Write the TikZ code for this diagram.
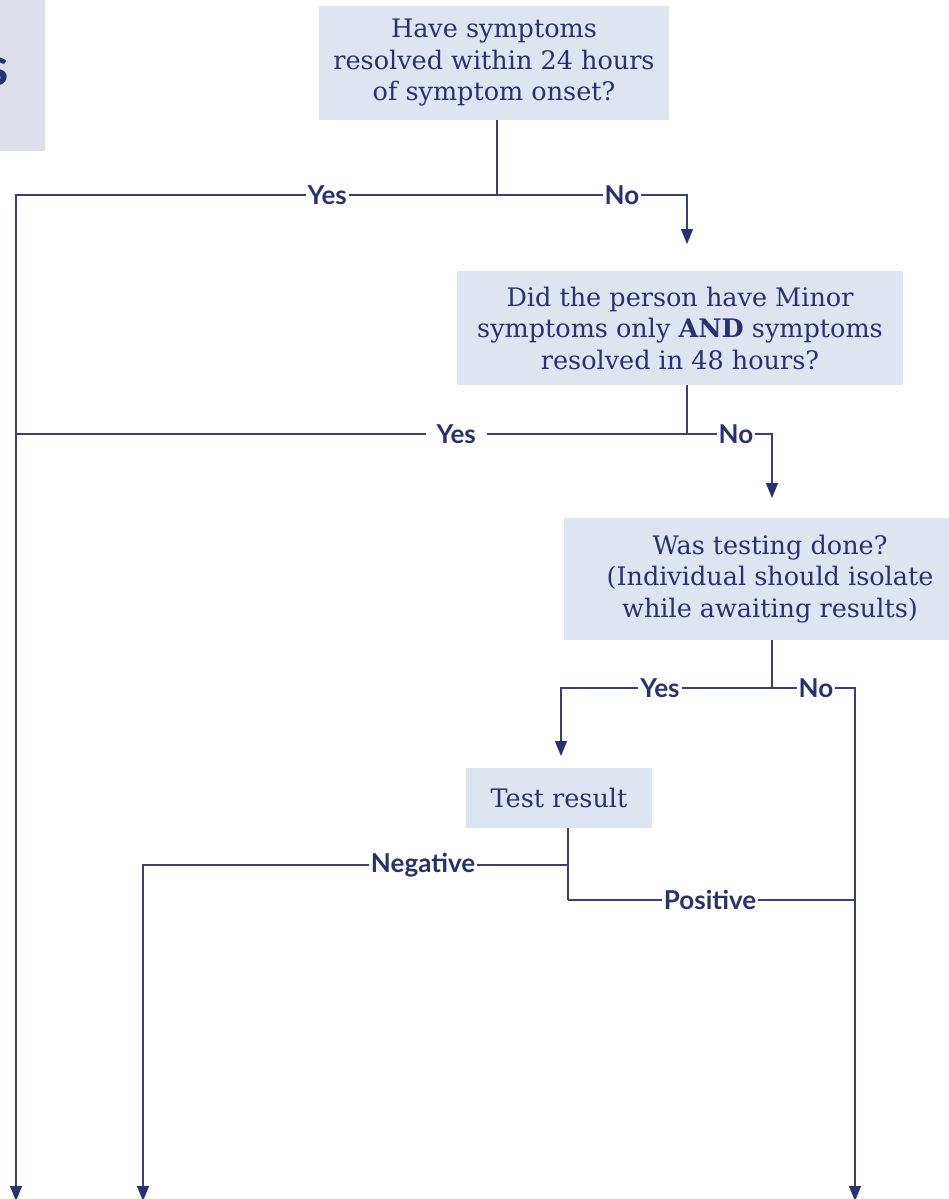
\documentclass[tikz,border=0pt]{standalone}
\usepackage{fontspec}
\setmainfont{DejaVu Serif}
\newfontfamily\lab{Lato}
\usetikzlibrary{arrows.meta}
\definecolor{navy}{HTML}{2B3070}
\definecolor{boxfill}{HTML}{DFE5F0}
\definecolor{tlfill}{HTML}{DEDEEA}
\definecolor{linec}{HTML}{3A3F75}
\begin{document}
\begin{tikzpicture}[x=1pt,y=-1pt,
  qbox/.style={fill=boxfill, text=navy, align=center, inner sep=0pt,
    font=\fontsize{25.5}{31.5}\selectfont},
  lbl/.style={fill=white, text=navy, inner xsep=2pt, inner ysep=0pt,
    font=\lab\bfseries\fontsize{26}{30}\selectfont},
  lblwide/.style={lbl, inner xsep=11pt},
  conn/.style={draw=linec, line width=1.3pt},
  arr/.style={conn, -{Triangle[width=12pt,length=15pt,color=navy]}}]
\useasboundingbox (0,0) rectangle (948,1199);

% partial box at top left
\node[fill=tlfill, minimum width=45pt, minimum height=151pt, anchor=north west, inner sep=0pt] (tl) at (0,0) {};
\node[text=navy, font=\lab\bfseries\fontsize{53}{53}\selectfont, anchor=east, inner sep=0pt] (tls) at (9,72) {s};

% question boxes
\node[qbox, minimum width=350pt, minimum height=114pt] (q1) at (494,63)
  {Have symptoms\\resolved within 24 hours\\of symptom onset?};
\node[qbox, minimum width=446pt, minimum height=114pt] (q2) at (680,328)
  {Did the person have Minor\\symptoms only \textbf{AND} symptoms\\resolved in 48 hours?};
\node[qbox, minimum width=412pt, minimum height=122pt] (q3) at (770,579)
  {Was testing done?\\(Individual should isolate\\while awaiting results)};
\node[qbox, minimum width=186pt, minimum height=60pt] (q4) at (559,798)
  {Test result};

% junction coordinates
\coordinate (j1) at (497,195);
\coordinate (L1) at (16,195);
\coordinate (Lend) at (16,1201);
\coordinate (R1) at (687,195);
\coordinate (R1e) at (687,244);

\coordinate (j2) at (687,434);
\coordinate (L2) at (16,434);
\coordinate (R2) at (772,434);
\coordinate (R2e) at (772,498);

\coordinate (j3) at (772,688);
\coordinate (L3) at (561,688);
\coordinate (L3e) at (561,756);
\coordinate (R3) at (855,688);
\coordinate (R3e) at (855,1201);

\coordinate (j4a) at (568,865);
\coordinate (j4b) at (568,900);
\coordinate (N1) at (143,865);
\coordinate (Ne) at (143,1201);
\coordinate (P1) at (855,900);

% question 1
\draw[conn] (q1.south -| j1) -- (j1);
\draw[arr] (j1) -- node[lbl, pos=0.353] (yes1) {Yes} (L1) -- (Lend);
\draw[arr] (j1) -- node[lbl, pos=0.658] (no1) {No} (R1) -- (R1e);

% question 2
\draw[conn] (q2.south -| j2) -- (j2);
\draw[conn] (j2) -- node[lblwide, pos=0.344] (yes2) {Yes} (L2);
\draw[arr] (j2) -- node[lbl, pos=0.576] (no2) {No} (R2) -- (R2e);

% question 3
\draw[conn] (q3.south -| j3) -- (j3);
\draw[arr] (j3) -- node[lbl, pos=0.531] (yes3) {Yes} (L3) -- (L3e);
\draw[arr] (j3) -- node[lbl, pos=0.53] (no3) {No} (R3) -- (R3e);

% test result
\draw[conn] (q4.south -| j4a) -- (j4b);
\draw[arr] (j4a) -- node[lbl, pos=0.341] (neg) {Negative} (N1) -- (Ne);
\draw[conn] (j4b) -- node[lbl, pos=0.495] (pos) {Positive} (P1);
\end{tikzpicture}
\end{document}
